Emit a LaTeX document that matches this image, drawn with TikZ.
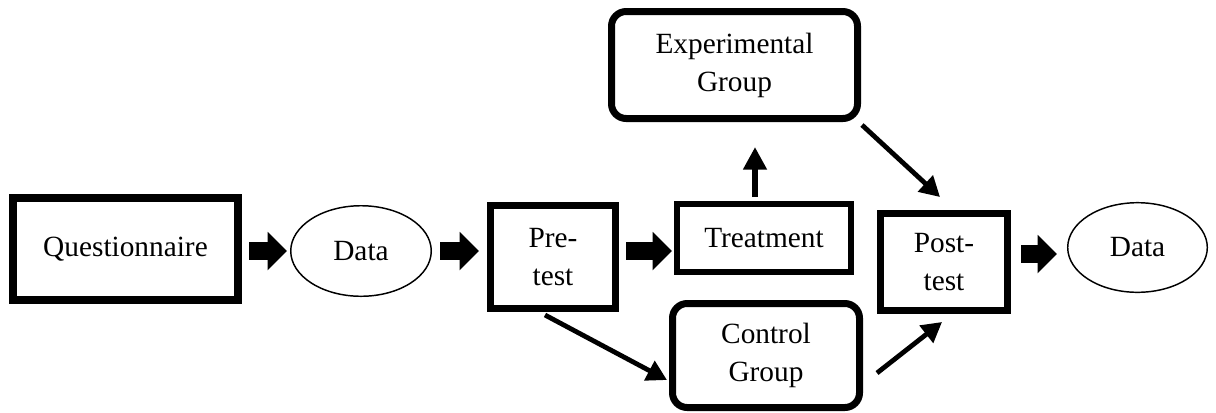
\documentclass[tikz,border=0pt]{standalone}
\usepackage{fontspec}
\setmainfont{Liberation Serif}
\usetikzlibrary{shapes.geometric, arrows.meta}

\begin{document}
\begin{tikzpicture}[x=0.75pt, y=-0.75pt,
    every node/.style={font=\fontsize{22}{28.5}\selectfont, align=center, inner sep=0pt},
    plainbox/.style={draw, line width=5.25pt},
    roundbox/.style={draw, line width=5.25pt, rounded corners=11pt},
    dataell/.style={ellipse, draw, line width=1.1pt},
    fatarrow/.style={line width=13.5pt, -{Triangle[length=14.5pt, width=28pt]}},
    thinarrow/.style={line width=3.6pt, -{Triangle[length=15pt, width=16pt]}}]
    \useasboundingbox (0,0) rectangle (1216,412);

    % Cajas del flujo
    \node[plainbox, line width=6pt, minimum width=168.75pt, minimum height=76.5pt] (quest) at (125.5,249) {Questionnaire};
    \node[dataell, minimum width=105.4pt, minimum height=67.9pt] (data1) at (361,251) {Data};
    \node[plainbox, minimum width=93.75pt, minimum height=77.25pt] (pre) at (553,257) {Pre-\\test};
    \node[plainbox, line width=4.5pt, minimum width=130.5pt, minimum height=51pt] (treat) at (764,238) {Treatment};
    \node[roundbox, minimum width=184.5pt, minimum height=80.25pt] (exp) at (734.5,65) {Experimental\\Group};
    \node[roundbox, minimum width=140.25pt, minimum height=78pt] (ctrl) at (766,355.5) {Control\\Group};
    \node[plainbox, minimum width=95.25pt, minimum height=72.75pt] (post) at (944,262) {Post-\\test};
    \node[dataell, minimum width=104.7pt, minimum height=67.2pt] (data2) at (1137.5,247.5) {Data};

    % Flechas gruesas
    \draw[fatarrow, shorten <=5.25pt, shorten >=2.25pt] (quest.east |- data1.west) -- (data1.west);
    \draw[fatarrow, shorten <=6pt, shorten >=6pt] (data1.east) -- (pre.west |- data1.east);
    \draw[fatarrow, shorten <=5.25pt, shorten >=1.5pt] (pre.east |- data1.east) -- (treat.west |- data1.east);
    \draw[fatarrow, shorten <=7.5pt, shorten >=7.5pt] ([yshift=6pt]post.east) -- ([yshift=6pt]post.east -| data2.west);

    % Flecha de tratamiento
    \coordinate (tup) at ([xshift=-6.75pt]treat.north);
    \draw[line width=5pt, -{Triangle[length=17pt, width=17pt]}, shorten <=3pt, shorten >=18.75pt] (tup) -- (tup |- exp.south);

    % Flechas finas
    \draw[thinarrow] ([shift={(-8,3)}]pre.south) -- ([shift={(-2,24.5)}]ctrl.west);
    \draw[thinarrow] ([shift={(1,3)}]exp.south east) -- ([shift={(-4,-13)}]post.north);
    \draw[thinarrow] ([shift={(14,17.5)}]ctrl.east) -- ([shift={(-2,8)}]post.south);
\end{tikzpicture}
\end{document}
